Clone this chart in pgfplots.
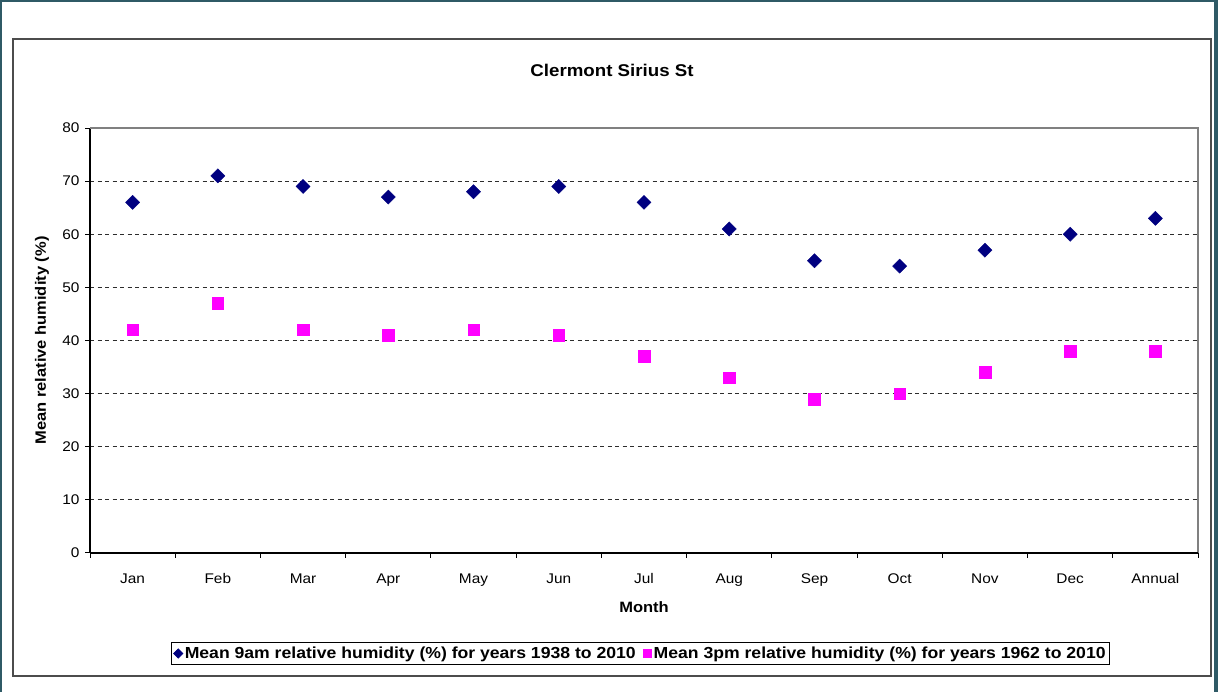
\documentclass[border=0pt]{standalone}
\usepackage{fontspec}
\setmainfont{Liberation Sans}[FakeStretch=1.1]
\usepackage{pgfplots}
\pgfplotsset{compat=1.18}
\definecolor{tealframe}{RGB}{47,90,102}
\definecolor{navyblue}{RGB}{0,0,128}
\definecolor{mag}{RGB}{255,0,255}
\definecolor{gridc}{RGB}{45,45,45}
\begin{document}
\begin{tikzpicture}
\useasboundingbox (0,0) rectangle (1218bp,692bp);
\fill[white] (0,0) rectangle (1218bp,692bp);
\draw[tealframe, line width=4bp] (0bp,-2bp) -- (0bp,692bp) -- (1218bp,692bp);
\draw[tealframe, line width=9bp] (1218bp,692bp) -- (1218bp,-2bp);
\draw[black!70, line width=1.3bp] (13bp,16bp) rectangle (1211bp,653bp);
\node[font=\fontsize{17bp}{20bp}\selectfont\bfseries] at (612bp,622bp) {Clermont Sirius St};
\begin{axis}[
  at={(90bp,139bp)}, anchor=south west,
  scale only axis, width=1108bp, height=425bp,
  xmin=-0.5, xmax=12.5, ymin=0, ymax=80,
  axis lines*=left,
  axis line style={-, black, line width=1.3bp},
  xtick={0,...,12},
  xticklabels={Jan,Feb,Mar,Apr,May,Jun,Jul,Aug,Sep,Oct,Nov,Dec,Annual},
  major x tick style={draw=none},
  minor xtick={-0.5,0.5,...,12.5},
  minor x tick style={black, line width=1bp},
  minor tick length=5bp,
  major tick length=5bp,
  ytick={0,10,...,80},
  y tick style={black, line width=1bp},
  tick align=outside,
  ymajorgrids,
  major grid style={gridc, line width=1.1bp, dash pattern=on 4bp off 3.5bp},
  /pgf/number format/assume math mode=true,
  tick label style={font=\fontsize{14bp}{16bp}\selectfont},
  yticklabel style={xshift=-2bp},
  xticklabel style={yshift=-12bp},
  xlabel={Month},
  ylabel={Mean relative humidity (\%)},
  every axis x label/.style={at={(axis description cs:0.5,-0.127)}, anchor=center, font=\fontsize{15bp}{18bp}\selectfont\bfseries},
  every axis y label/.style={at={(axis description cs:-0.0433,0.5)}, anchor=center, rotate=90, font=\fontsize{15bp}{18bp}\selectfont\bfseries},
  legend columns=2,
  legend style={at={(0.497,-0.2365)}, anchor=center, draw=black, line width=1bp,
    font=\fontsize{16bp}{18bp}\selectfont\bfseries, inner sep=2bp,
    /tikz/every even column/.append style={column sep=6bp},
    legend cell align=left},
  legend image code/.code={\draw[#1] plot coordinates {(0.18cm,0cm)};},
  after end axis/.code={
    \draw[black!50, line width=1.4bp] (rel axis cs:0,1) -- (rel axis cs:1,1) -- (rel axis cs:1,0);
    \draw[black, line width=1.3bp] (rel axis cs:0,0) -- (rel axis cs:1,0);
  },
]
\addplot[only marks, mark=square*, mark size=5bp, mark options={rotate=45, fill=navyblue, draw=navyblue},
  legend image post style={mark size=3.2bp}]
coordinates {
(0,66) (1,71) (2,69) (3,67) (4,68) (5,69) (6,66) (7,61) (8,55) (9,54) (10,57) (11,60) (12,63)
};
\addlegendentry{Mean 9am relative humidity (\%) for years 1938 to 2010}
\addplot[only marks, mark=square*, mark size=5.8bp, mark options={fill=mag, draw=mag},
  legend image post style={mark size=4bp}]
coordinates {
(0,42) (1,47) (2,42) (3,41) (4,42) (5,41) (6,37) (7,33) (8,29) (9,30) (10,34) (11,38) (12,38)
};
\addlegendentry{Mean 3pm relative humidity (\%) for years 1962 to 2010}
\end{axis}
\end{tikzpicture}
\end{document}
